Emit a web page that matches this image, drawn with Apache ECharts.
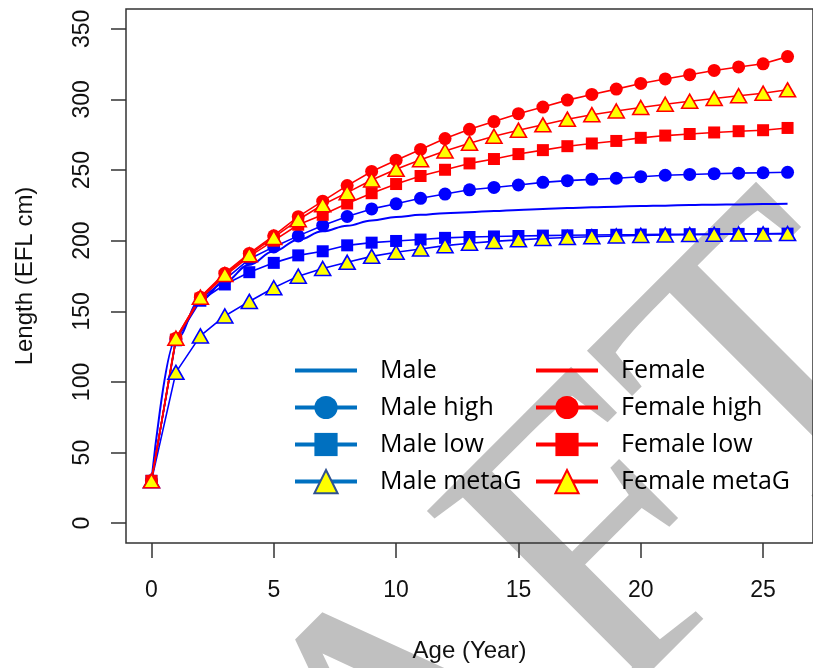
<!DOCTYPE html>
<html>
<head>
<meta charset="utf-8">
<script src="https://cdn.jsdelivr.net/npm/echarts@6/dist/echarts.min.js"></script>
<style>
  html, body { margin: 0; padding: 0; background: #fff; }
  #chart { width: 813px; height: 668px; }
</style>
</head>
<body>
<div id="chart"></div>
<script>
// 年龄 (x)
var ages = [0, 1, 2, 3, 4, 5, 6, 7, 8, 9, 10, 11, 12, 13, 14, 15, 16, 17, 18, 19, 20, 21, 22, 23, 24, 25, 26]
// 雄性
var male = [30, 130, 158, 171, 183, 192.5, 200.7, 206.6, 210.6, 214.3, 216.7, 218.3, 219.5, 220.2, 221, 221.8, 222.5, 223.1, 223.6, 224.1, 224.5, 224.8, 225.2, 225.5, 225.7, 225.9, 226.1]
var maleHigh = [30, 130, 158.5, 172.5, 187, 195.6, 203.4, 210.8, 217.1, 222.5, 226.1, 230, 233, 236, 237.7, 239.4, 241.3, 242.5, 243.4, 244.2, 245.3, 246.3, 246.9, 247.4, 247.8, 248.1, 248.4]
var maleLow = [30, 129.5, 157.5, 169, 177.7, 184.3, 189.6, 192.5, 196.7, 198.6, 199.8, 200.8, 202, 202.6, 203, 203.3, 203.6, 203.8, 204, 204.2, 204.3, 204.5, 204.6, 204.7, 204.8, 204.9, 205]
var maleMetaG = [30, 106.8, 132.6, 146.7, 157, 166.7, 174.9, 180.3, 184.7, 188.9, 191.8, 194.1, 196.5, 198.2, 199.5, 200.6, 201.5, 202.2, 202.8, 203.3, 203.7, 204, 204.3, 204.5, 204.7, 204.8, 205]
// 雌性
var female = []
var femaleHigh = [30, 131, 160, 177, 191, 203.5, 217, 228, 239, 249, 257, 264.6, 272.3, 278.8, 284.3, 289.9, 294.6, 299.5, 303.5, 307.3, 311.3, 314.5, 317.5, 320.5, 323, 325.2, 330.3]
var femaleLow = [30, 130, 159, 175, 188.9, 200, 211.3, 218.3, 226.3, 233.6, 240.1, 245.8, 250.2, 254.7, 257.8, 261.3, 264.1, 266.9, 268.8, 270.6, 272.8, 274.4, 275.5, 276.6, 277.5, 278.2, 279.8]
var femaleMetaG = [30, 131, 160, 176, 190, 202.3, 214.8, 225.4, 234, 243, 250.5, 257.3, 263.5, 269, 273.9, 278.2, 282, 286, 289.2, 291.8, 294.3, 296.6, 298.7, 300.7, 302.6, 304.4, 306.8]
// 刻度
var xTicks = [0, 5, 10, 15, 20, 25]
var yTicks = [0, 50, 100, 150, 200, 250, 300, 350]

var BLUE = '#0000ff'
var RED = '#ff0000'
var YELLOW = '#ffff00'
var LEG_BLUE = '#0070c0'

function pairs (vals) {
  return vals.map(function (v, i) { return [ages[i], v] })
}

function lineSeries (name, vals, color, symbol, size, fill) {
  return {
    name: name,
    type: 'line',
    data: pairs(vals),
    symbol: symbol,
    symbolSize: size,
    showSymbol: symbol !== 'none',
    smooth: symbol === 'none' ? 0.4 : false,
    smoothMonotone: 'x',
    lineStyle: { color: color, width: symbol === 'none' ? 2 : 1.6 },
    itemStyle: {
      color: fill || color,
      borderColor: color,
      borderWidth: fill ? 1.6 : 0
    },
    emphasis: { disabled: true },
    z: 2
  }
}

function legendItem (name, color, showSymbol, fill, border) {
  return {
    name: name,
    itemStyle: showSymbol
      ? { color: fill || color, borderColor: border || color, borderWidth: fill ? 2 : 0, opacity: 1 }
      : { color: color, opacity: 0 },
    lineStyle: { color: color, width: 4 }
  }
}

var labelFont = 'Liberation Sans'
var legendText = {
  fontFamily: 'Open Sans',
  fontSize: 25,
  color: '#000',
  padding: [0, 0, 0, 18]
}

var chart = echarts.init(document.getElementById('chart'))
chart.setOption({
  animation: false,
  backgroundColor: '#fff',
  grid: {
    left: 126,
    top: 9,
    width: 697,
    height: 534,
    show: true,
    borderColor: '#333',
    borderWidth: 1.5,
    backgroundColor: 'transparent'
  },
  xAxis: {
    type: 'value',
    min: -1.04,
    max: 27.04,
    name: 'Age (Year)',
    nameLocation: 'middle',
    nameGap: 96,
    nameTextStyle: { fontFamily: labelFont, fontSize: 24, color: '#111' },
    axisLine: { show: false, onZero: false },
    splitLine: { show: false },
    axisTick: {
      show: true,
      length: 15,
      customValues: xTicks,
      lineStyle: { color: '#333', width: 1.5 }
    },
    axisLabel: {
      customValues: xTicks,
      margin: 36,
      fontFamily: labelFont,
      fontSize: 23,
      color: '#111'
    }
  },
  yAxis: {
    type: 'value',
    min: -14,
    max: 364,
    name: 'Length (EFL cm)',
    nameLocation: 'middle',
    nameGap: 89,
    nameTextStyle: { fontFamily: labelFont, fontSize: 24, color: '#111' },
    axisLine: { show: false, onZero: false },
    splitLine: { show: false },
    axisTick: {
      show: true,
      length: 15,
      customValues: yTicks,
      lineStyle: { color: '#333', width: 1.5 }
    },
    axisLabel: {
      customValues: yTicks,
      rotate: 90,
      margin: 32,
      fontFamily: labelFont,
      fontSize: 23,
      color: '#111'
    }
  },
  legend: [
    {
      left: 293,
      top: 358,
      padding: 0,
      orient: 'vertical',
      itemWidth: 62,
      itemHeight: 29,
      itemGap: 12,
      selectedMode: false,
      textStyle: legendText,
      data: [
        legendItem('Male', LEG_BLUE, false),
        legendItem('Male high', LEG_BLUE, true),
        legendItem('Male low', LEG_BLUE, true),
        legendItem('Male metaG', LEG_BLUE, true, YELLOW, '#2f528f')
      ]
    },
    {
      left: 534,
      top: 358,
      padding: 0,
      orient: 'vertical',
      itemWidth: 62,
      itemHeight: 29,
      itemGap: 12,
      selectedMode: false,
      textStyle: legendText,
      data: [
        legendItem('Female', RED, false),
        legendItem('Female high', RED, true),
        legendItem('Female low', RED, true),
        legendItem('Female metaG', RED, true, YELLOW, RED)
      ]
    }
  ],
  // 水印
  graphic: [
    {
      type: 'text',
      x: 876,
      y: 292,
      rotation: Math.PI / 4,
      z: -10,
      silent: true,
      style: {
        text: 'DRAFT',
        fontFamily: 'Liberation Serif',
        fontSize: 415,
        fill: '#c0c0c0',
        align: 'right',
        verticalAlign: 'middle'
      }
    }
  ],
  series: [
    lineSeries('Male', male, BLUE, 'none', 0),
    lineSeries('Male high', maleHigh, BLUE, 'circle', 13),
    lineSeries('Male low', maleLow, BLUE, 'rect', 12),
    lineSeries('Male metaG', maleMetaG, BLUE, 'triangle', [16, 14], YELLOW),
    lineSeries('Female', female, RED, 'none', 0),
    lineSeries('Female high', femaleHigh, RED, 'circle', 13),
    lineSeries('Female low', femaleLow, RED, 'rect', 12),
    lineSeries('Female metaG', femaleMetaG, RED, 'triangle', [16, 14], YELLOW)
  ]
})
</script>
</body>
</html>
